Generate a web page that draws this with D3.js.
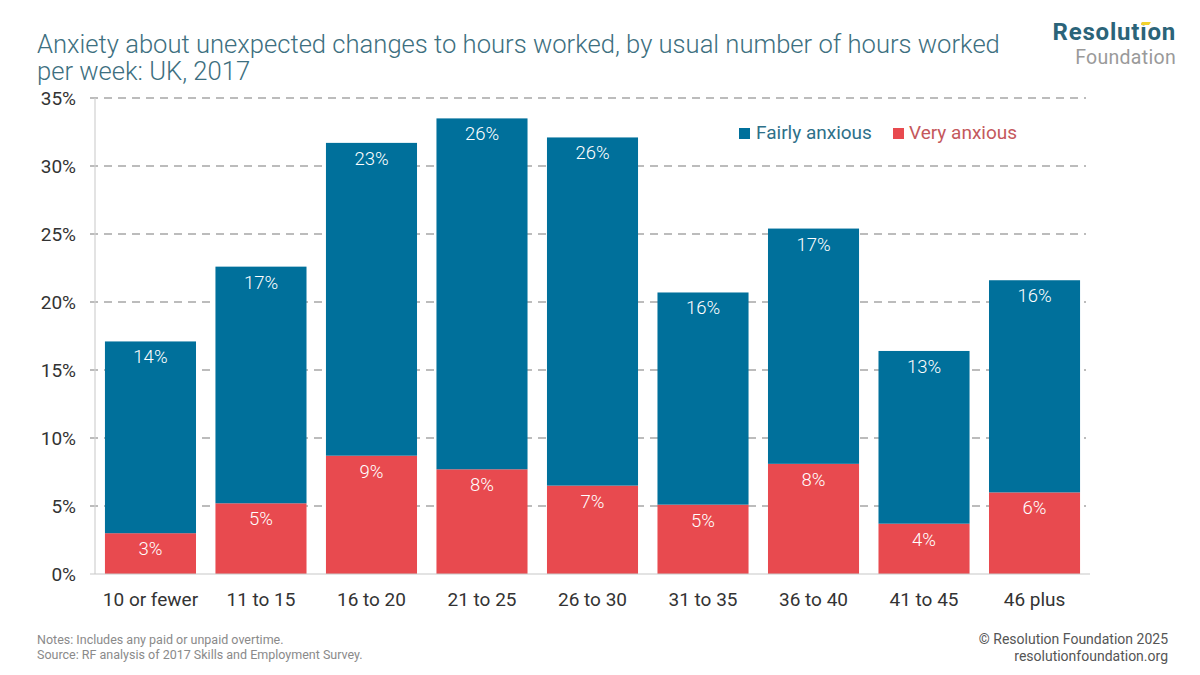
<!DOCTYPE html>
<html>
<head>
<meta charset="utf-8">
<script src="https://cdn.jsdelivr.net/npm/d3@7"></script>
<style>
  body { margin: 0; background: #fff; }
  svg { font-family: Roboto, "Open Sans", sans-serif; }
</style>
</head>
<body>
<svg id="chart" width="1200" height="675"></svg>
<script>
  /***** Data *****/
  var categories = ["10 or fewer", "11 to 15", "16 to 20", "21 to 25", "26 to 30", "31 to 35", "36 to 40", "41 to 45", "46 plus"];
  var veryAnxious = [3.0, 5.2, 8.7, 7.7, 6.5, 5.1, 8.1, 3.7, 6.0];
  var fairlyAnxious = [14.1, 17.4, 23.0, 25.8, 25.6, 15.6, 17.3, 12.7, 15.6];
  var yTicks = [0, 5, 10, 15, 20, 25, 30, 35];

  var blue = "#00709b", red = "#e84a4f";

  var svg = d3.select("#chart");

  /***** Scales *****/
  var x = d3.scaleBand().domain(categories).range([95, 1090]).paddingInner(0.176).paddingOuter(0.09);
  var y = d3.scaleLinear().domain([0, 35]).range([574, 98]);

  /***** Title *****/
  var title = svg.append("text").attr("x", 37).attr("fill", "#3d6f80")
    .style("font-size", "25.6px").style("font-weight", 300);
  title.append("tspan").attr("x", 37).attr("y", 53).text("Anxiety about unexpected changes to hours worked, by usual number of hours worked");
  title.append("tspan").attr("x", 37).attr("y", 80).text("per week: UK, 2017");

  /***** Logo *****/
  svg.append("text").attr("x", 1176).attr("y", 40).attr("text-anchor", "end")
    .attr("fill", "#2b6479").style("font-size", "24px").style("font-weight", 700)
    .style("letter-spacing", "0.8px").text("Resolution");
  svg.append("text").attr("x", 1176).attr("y", 64).attr("text-anchor", "end")
    .attr("fill", "#9a9a9a").style("font-size", "19.5px").style("letter-spacing", "0.3px").text("Foundation");
  svg.append("polygon").attr("points", "1142,22 1151,22 1149,25 1141,25").attr("fill", "#f2d22e");

  /***** Grid and axes *****/
  svg.append("g").selectAll("line").data(yTicks.slice(1)).join("line")
    .attr("x1", 90).attr("x2", 1086)
    .attr("y1", function (d) { return y(d); }).attr("y2", function (d) { return y(d); })
    .attr("stroke", "#a6a6a6").attr("stroke-width", 1.5).attr("stroke-dasharray", "8,6");

  svg.append("line").attr("x1", 95).attr("x2", 95).attr("y1", y(35)).attr("y2", y(0))
    .attr("stroke", "#d0d0d0").attr("stroke-width", 1.2);

  svg.append("g").selectAll("text").data(yTicks).join("text")
    .attr("x", 76).attr("y", function (d) { return y(d) + 7; })
    .attr("text-anchor", "end").attr("fill", "#333").style("font-size", "19px")
    .text(function (d) { return d + "%"; });

  /***** Bars *****/
  var bars = svg.append("g");
  bars.selectAll("rect.very").data(categories).join("rect").attr("class", "very")
    .attr("x", function (d) { return x(d); })
    .attr("width", x.bandwidth())
    .attr("y", function (d, i) { return y(veryAnxious[i]); })
    .attr("height", function (d, i) { return y(0) - y(veryAnxious[i]); })
    .attr("fill", red);

  bars.selectAll("rect.fairly").data(categories).join("rect").attr("class", "fairly")
    .attr("x", function (d) { return x(d); })
    .attr("width", x.bandwidth())
    .attr("y", function (d, i) { return y(veryAnxious[i] + fairlyAnxious[i]); })
    .attr("height", function (d, i) { return y(veryAnxious[i]) - y(veryAnxious[i] + fairlyAnxious[i]); })
    .attr("fill", blue);

  // baseline
  svg.append("line").attr("x1", 90).attr("x2", 1090).attr("y1", y(0)).attr("y2", y(0))
    .attr("stroke", "#c8c8c8").attr("stroke-width", 1.2);

  /***** Value labels *****/
  bars.selectAll("text.vl").data(categories).join("text").attr("class", "vl")
    .attr("x", function (d) { return x(d) + x.bandwidth() / 2; })
    .attr("y", function (d, i) { return y(veryAnxious[i]) + 22; })
    .attr("text-anchor", "middle").attr("fill", "#fff").style("font-size", "18.5px").style("font-weight", 300)
    .text(function (d, i) { return Math.round(veryAnxious[i]) + "%"; });

  bars.selectAll("text.fl").data(categories).join("text").attr("class", "fl")
    .attr("x", function (d) { return x(d) + x.bandwidth() / 2; })
    .attr("y", function (d, i) { return y(veryAnxious[i] + fairlyAnxious[i]) + 22; })
    .attr("text-anchor", "middle").attr("fill", "#fff").style("font-size", "18.5px").style("font-weight", 300)
    .text(function (d, i) { return Math.round(fairlyAnxious[i]) + "%"; });

  /***** X axis labels *****/
  svg.append("g").selectAll("text").data(categories).join("text")
    .attr("x", function (d) { return x(d) + x.bandwidth() / 2; })
    .attr("y", 606).attr("text-anchor", "middle").attr("fill", "#333").style("font-size", "19px")
    .text(function (d) { return d; });

  /***** Legend *****/
  var legend = svg.append("g");
  legend.append("rect").attr("x", 739).attr("y", 128).attr("width", 11).attr("height", 11).attr("fill", blue);
  legend.append("text").attr("x", 756).attr("y", 139).attr("fill", "#2e7089").style("font-size", "19px").text("Fairly anxious");
  legend.append("rect").attr("x", 893).attr("y", 128).attr("width", 11).attr("height", 11).attr("fill", red);
  legend.append("text").attr("x", 909).attr("y", 139).attr("fill", "#c4585c").style("font-size", "19px").text("Very anxious");

  /***** Footer *****/
  svg.append("text").attr("x", 37).attr("y", 644).attr("fill", "#8a8a8a").style("font-size", "12.5px")
    .text("Notes: Includes any paid or unpaid overtime.");
  svg.append("text").attr("x", 37).attr("y", 659).attr("fill", "#8a8a8a").style("font-size", "12.5px")
    .text("Source: RF analysis of 2017 Skills and Employment Survey.");
  svg.append("text").attr("x", 1168).attr("y", 644).attr("text-anchor", "end").attr("fill", "#555").style("font-size", "14px")
    .text("© Resolution Foundation 2025");
  svg.append("text").attr("x", 1168).attr("y", 661).attr("text-anchor", "end").attr("fill", "#555").style("font-size", "14px")
    .text("resolutionfoundation.org");
</script>
</body>
</html>
